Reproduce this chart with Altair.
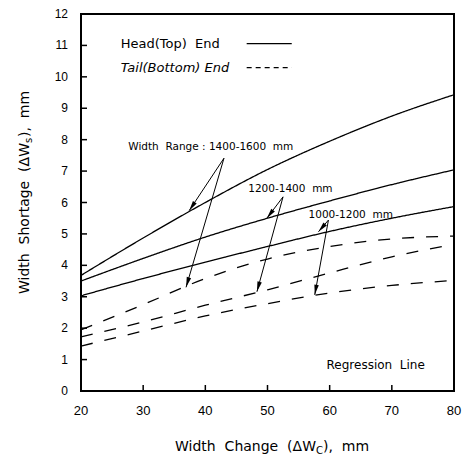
import math
import altair as alt
import pandas as pd

# ---------------- data ----------------
x_pts = [20, 30, 40, 50, 60, 70, 80]
head_1400_1600 = [3.68, 4.87, 6.00, 7.05, 7.95, 8.75, 9.43]
head_1200_1400 = [3.50, 4.22, 4.90, 5.50, 6.05, 6.57, 7.04]
head_1000_1200 = [3.03, 3.58, 4.10, 4.60, 5.08, 5.50, 5.87]
tail_1400_1600 = [1.95, 2.75, 3.58, 4.20, 4.60, 4.84, 4.93]
tail_1200_1400 = [1.72, 2.20, 2.73, 3.22, 3.76, 4.27, 4.67]
tail_1000_1200 = [1.43, 1.91, 2.39, 2.78, 3.12, 3.36, 3.52]

x_tick_values = [20, 30, 40, 50, 60, 70, 80]
y_tick_values = list(range(0, 13))
x_inner_ticks = [30, 40, 50, 60, 70]

# annotation arrows (data coordinates)
arrow_apex_x = [43.0, 52.5, 59.8]
arrow_apex_y = [7.41, 6.18, 5.44]
arrow_head_tip_x = [37.4, 49.9, 58.2]
arrow_head_tip_y = [5.74, 5.50, 5.07]
arrow_tail_tip_x = [36.9, 48.3, 57.6]
arrow_tail_tip_y = [3.30, 3.16, 3.06]

SP = " \u00a0"  # double space that SVG will not collapse
ann_text = ["Width" + SP + "Range : 1400-1600" + SP + "mm",
            "1200-1400" + SP + "mm", "1000-1200" + SP + "mm", "Regression" + SP + "Line"]
ann_x = [27.6, 46.9, 56.6, 59.5]
ann_y = [7.78, 6.42, 5.60, 0.83]
ann_size = [10.5, 10.5, 10.5, 12]

legend_text = ["Head(Top)" + SP + "End", "Tail(Bottom) End"]
legend_text_x = [26.4, 26.4]
legend_text_y = [11.03, 10.29]
legend_line_x = [46.65, 46.65]
legend_line_x2 = [53.9, 53.9]
legend_line_y = [11.06, 10.29]

# ---------------- layout ----------------
W, H = 373, 377
FONT = "DejaVu Sans"

rows = []
for name, end, ys in [
    ("1400-1600", "Head", head_1400_1600),
    ("1200-1400", "Head", head_1200_1400),
    ("1000-1200", "Head", head_1000_1200),
    ("1400-1600", "Tail", tail_1400_1600),
    ("1200-1400", "Tail", tail_1200_1400),
    ("1000-1200", "Tail", tail_1000_1200),
]:
    for xv, yv in zip(x_pts, ys):
        rows.append({"series": name + " " + end, "end": end, "x": xv, "y": yv})
lines_df = pd.DataFrame(rows)

xs = alt.Scale(domain=[20, 80], nice=False, zero=False)
ys_ = alt.Scale(domain=[0, 12], nice=False, zero=True)

lines = alt.Chart(lines_df).mark_line(color="black", strokeWidth=1.3, interpolate="monotone").encode(
    x=alt.X("x:Q", scale=xs, axis=None),
    y=alt.Y("y:Q", scale=ys_, axis=None),
    detail="series:N",
    strokeDash=alt.StrokeDash("end:N", scale=alt.Scale(domain=["Head", "Tail"], range=[[1, 0], [12, 12]]),
                              legend=None),
)

# tick labels
xlab = alt.Chart(pd.DataFrame({"v": x_tick_values})).mark_text(
    align="center", baseline="alphabetic", font="Liberation Sans", fontSize=13, color="black").encode(
    x=alt.X("v:Q", scale=xs, axis=None), y=alt.value(H + 24), text="v:Q")
ylab = alt.Chart(pd.DataFrame({"v": y_tick_values})).mark_text(
    align="right", baseline="middle", font="Liberation Sans", fontSize=12, color="black").encode(
    y=alt.Y("v:Q", scale=ys_, axis=None), x=alt.value(-13), text="v:Q")

# inward ticks
yt = alt.Chart(pd.DataFrame({"v": y_tick_values})).mark_rule(color="black", strokeWidth=1.5).encode(
    y=alt.Y("v:Q", scale=ys_, axis=None), x=alt.value(0), x2=alt.value(6))
xt = alt.Chart(pd.DataFrame({"v": x_inner_ticks})).mark_rule(color="black", strokeWidth=1.5).encode(
    x=alt.X("v:Q", scale=xs, axis=None), y=alt.value(H), y2=alt.value(H - 6))

# arrows
arr_rows, head_rows = [], []
for i in range(3):
    for tx, ty in [(arrow_head_tip_x[i], arrow_head_tip_y[i]), (arrow_tail_tip_x[i], arrow_tail_tip_y[i])]:
        ax_, ay_ = arrow_apex_x[i], arrow_apex_y[i]
        arr_rows.append({"x": ax_, "y": ay_, "x2": tx, "y2": ty})
        dx = (tx - ax_) * W / 60.0
        dys = -(ty - ay_) * H / 12.0
        ang = math.degrees(math.atan2(dx, -dys)) % 360
        head_rows.append({"x": tx, "y": ty, "ang": ang})
arr_df = pd.DataFrame(arr_rows)
head_df = pd.DataFrame(head_rows)

shafts = alt.Chart(arr_df).mark_rule(color="black", strokeWidth=1.0).encode(
    x=alt.X("x:Q", scale=xs, axis=None), y=alt.Y("y:Q", scale=ys_, axis=None),
    x2="x2:Q", y2="y2:Q")
heads = alt.Chart(head_df).mark_point(shape="M0,0L0.22,1L-0.22,1Z", filled=True, color="black",
                                      opacity=1, size=420, strokeWidth=0).encode(
    x=alt.X("x:Q", scale=xs, axis=None), y=alt.Y("y:Q", scale=ys_, axis=None),
    angle=alt.Angle("ang:Q", scale=None))

ann = alt.Chart(pd.DataFrame({"t": ann_text, "x": ann_x, "y": ann_y, "s": ann_size})).mark_text(
    align="left", baseline="middle", font=FONT, color="black").encode(
    x=alt.X("x:Q", scale=xs, axis=None), y=alt.Y("y:Q", scale=ys_, axis=None), text="t:N",
    size=alt.Size("s:Q", scale=None, legend=None))

leg_df = pd.DataFrame({"t": legend_text, "x": legend_text_x, "y": legend_text_y,
                       "lx": legend_line_x, "lx2": legend_line_x2, "ly": legend_line_y})
leg_head_text = alt.Chart(leg_df.iloc[[0]]).mark_text(
    align="left", baseline="middle", font=FONT, fontSize=13, color="black").encode(
    x=alt.X("x:Q", scale=xs, axis=None), y=alt.Y("y:Q", scale=ys_, axis=None), text="t:N")
leg_tail_text = alt.Chart(leg_df.iloc[[1]]).mark_text(
    align="left", baseline="middle", font=FONT, fontSize=13, fontStyle="italic", color="black").encode(
    x=alt.X("x:Q", scale=xs, axis=None), y=alt.Y("y:Q", scale=ys_, axis=None), text="t:N")
leg_head_line = alt.Chart(leg_df.iloc[[0]]).mark_rule(color="black", strokeWidth=1.3).encode(
    x=alt.X("lx:Q", scale=xs, axis=None), x2="lx2:Q", y=alt.Y("ly:Q", scale=ys_, axis=None))
leg_tail_line = alt.Chart(leg_df.iloc[[1]]).mark_rule(color="black", strokeWidth=1.3,
                                                      strokeDash=[5, 4]).encode(
    x=alt.X("lx:Q", scale=xs, axis=None), x2="lx2:Q", y=alt.Y("ly:Q", scale=ys_, axis=None))

# axis titles with subscripts (pixel positions relative to plot area)
one = pd.DataFrame({"a": [0]})
TFS = 14
xt1 = alt.Chart(one).mark_text(text="Width" + SP + "Change" + SP + "(\u0394W", align="right",
                               baseline="alphabetic", font=FONT, fontSize=TFS, color="black").encode(
    x=alt.value(235), y=alt.value(437))
xt2 = alt.Chart(one).mark_text(text="C", align="left", baseline="alphabetic",
                               font=FONT, fontSize=10, color="black").encode(
    x=alt.value(235), y=alt.value(440))
xt3 = alt.Chart(one).mark_text(text=")," + SP + "mm", align="left", baseline="alphabetic",
                               font=FONT, fontSize=TFS, color="black").encode(
    x=alt.value(242), y=alt.value(437))

yt1 = alt.Chart(one).mark_text(text="Width" + SP + "Shortage" + SP + "(\u0394W", align="right",
                               baseline="middle", angle=270, font=FONT, fontSize=TFS, color="black").encode(
    x=alt.value(-56), y=alt.value(129))
yt2 = alt.Chart(one).mark_text(text="s", align="left", baseline="middle",
                               angle=270, font=FONT, fontSize=10, color="black").encode(
    x=alt.value(-52), y=alt.value(129))
yt3 = alt.Chart(one).mark_text(text=")," + SP + "mm", align="left", baseline="middle",
                               angle=270, font=FONT, fontSize=TFS, color="black").encode(
    x=alt.value(-56), y=alt.value(123))

chart = alt.layer(
    lines, xlab, ylab, yt, xt, shafts, heads, ann,
    leg_head_text, leg_tail_text, leg_head_line, leg_tail_line,
    xt1, xt2, xt3, yt1, yt2, yt3,
).properties(
    width=W, height=H,
    autosize=alt.AutoSizeParams(type="none"),
    padding={"left": 81, "top": 14, "right": 12, "bottom": 69},
    background="white",
).configure_view(stroke="black", strokeWidth=2)

chart.save("out.html", embed_options={"renderer": "svg", "actions": False})
